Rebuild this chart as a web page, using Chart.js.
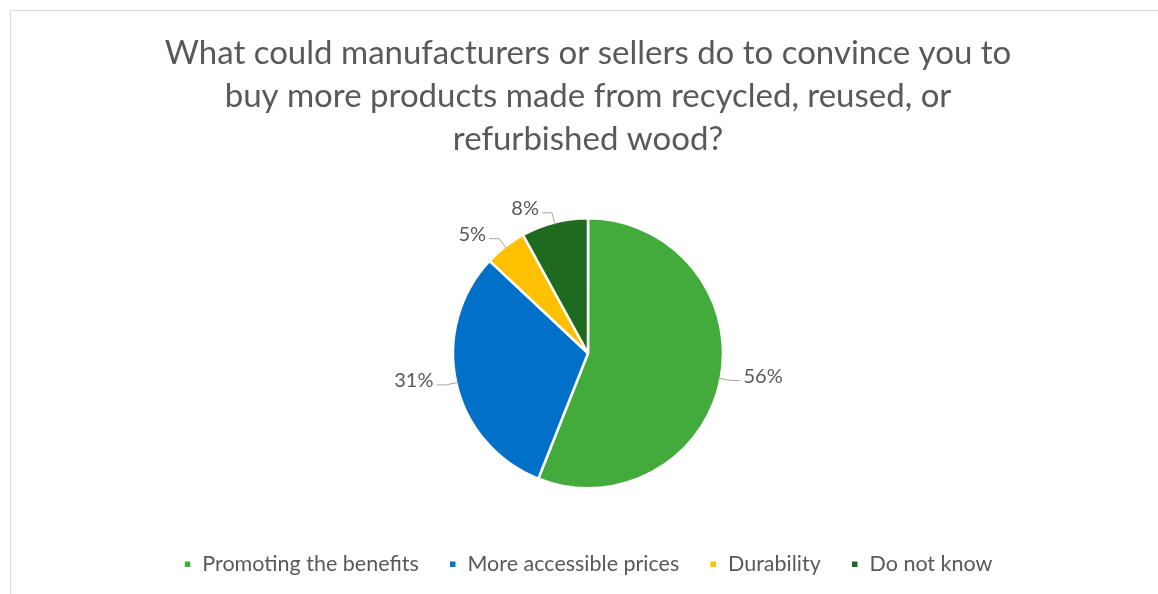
<!DOCTYPE html>
<html>
<head>
<meta charset="utf-8">
<script src="https://cdn.jsdelivr.net/npm/chart.js@4/dist/chart.umd.min.js"></script>
<style>
  html, body { margin: 0; padding: 0; background: #fff; }
  #wrap { position: relative; width: 1158px; height: 594px; }
  #frame { position: absolute; left: 10px; top: 10px; right: 0; bottom: 0; border-top: 1px solid #d9d9d9; border-left: 1px solid #d9d9d9; }
</style>
</head>
<body>
<div id="wrap">
  <div id="frame"></div>
  <canvas id="pie" width="1158" height="594"></canvas>
</div>
<script>
// Survey answers, percent
const answers = ['Promoting the benefits', 'More accessible prices', 'Durability', 'Do not know'];
const shares = [56, 31, 5, 8];
const sliceColors = ['#43AB3B', '#0070C9', '#FFC000', '#1E6A1E'];
const titleLines = [
  'What could manufacturers or sellers do to convince you to',
  'buy more products made from recycled, reused, or',
  'refurbished wood?'
];

const FONT = 'Lato, "Open Sans", sans-serif';
const GREY = '#595959';

// outside labels with short leader lines, Excel style
const leaderLabels = {
  id: 'leaderLabels',
  afterDatasetsDraw(chart) {
    const ctx = chart.ctx;
    const meta = chart.getDatasetMeta(0);
    ctx.save();
    ctx.font = '20px ' + FONT;
    meta.data.forEach((arc, i) => {
      const p = arc.getProps(['x', 'y', 'startAngle', 'endAngle', 'outerRadius'], true);
      const mid = (p.startAngle + p.endAngle) / 2;
      const c = Math.cos(mid), s = Math.sin(mid);
      const side = c >= 0 ? 1 : -1;
      const edge = { x: p.x + c * (p.outerRadius - 2), y: p.y + s * (p.outerRadius - 2) };
      const elbow = { x: p.x + c * (p.outerRadius + 10), y: p.y + s * (p.outerRadius + 10) };
      const end = { x: elbow.x + side * 10, y: elbow.y };
      ctx.strokeStyle = '#a6a6a6';
      ctx.lineWidth = 1;
      ctx.beginPath();
      ctx.moveTo(edge.x, edge.y);
      ctx.lineTo(elbow.x, elbow.y);
      ctx.lineTo(end.x, end.y);
      ctx.stroke();
      ctx.fillStyle = GREY;
      ctx.textAlign = side > 0 ? 'left' : 'right';
      ctx.textBaseline = 'middle';
      ctx.fillText(shares[i] + '%', end.x + side * 3, end.y - 4);
    });
    ctx.restore();
  }
};

new Chart(document.getElementById('pie'), {
  type: 'pie',
  data: {
    labels: answers,
    datasets: [{
      data: shares,
      backgroundColor: sliceColors,
      borderColor: '#ffffff',
      borderWidth: 2.5
    }]
  },
  options: {
    responsive: false,
    animation: false,
    radius: 135,
    layout: { padding: { left: 18, right: 0, top: 0, bottom: 9 } },
    plugins: {
      title: {
        display: true,
        text: titleLines,
        color: GREY,
        font: { family: FONT, size: 33, weight: 'normal', lineHeight: 43 / 33 },
        padding: { top: 32, bottom: 22 }
      },
      legend: {
        position: 'bottom',
        labels: {
          color: GREY,
          font: { family: FONT, size: 21.5 },
          boxWidth: 8,
          boxHeight: 8,
          padding: 30
        }
      },
      tooltip: { enabled: false }
    }
  },
  plugins: [leaderLabels]
});
</script>
</body>
</html>
